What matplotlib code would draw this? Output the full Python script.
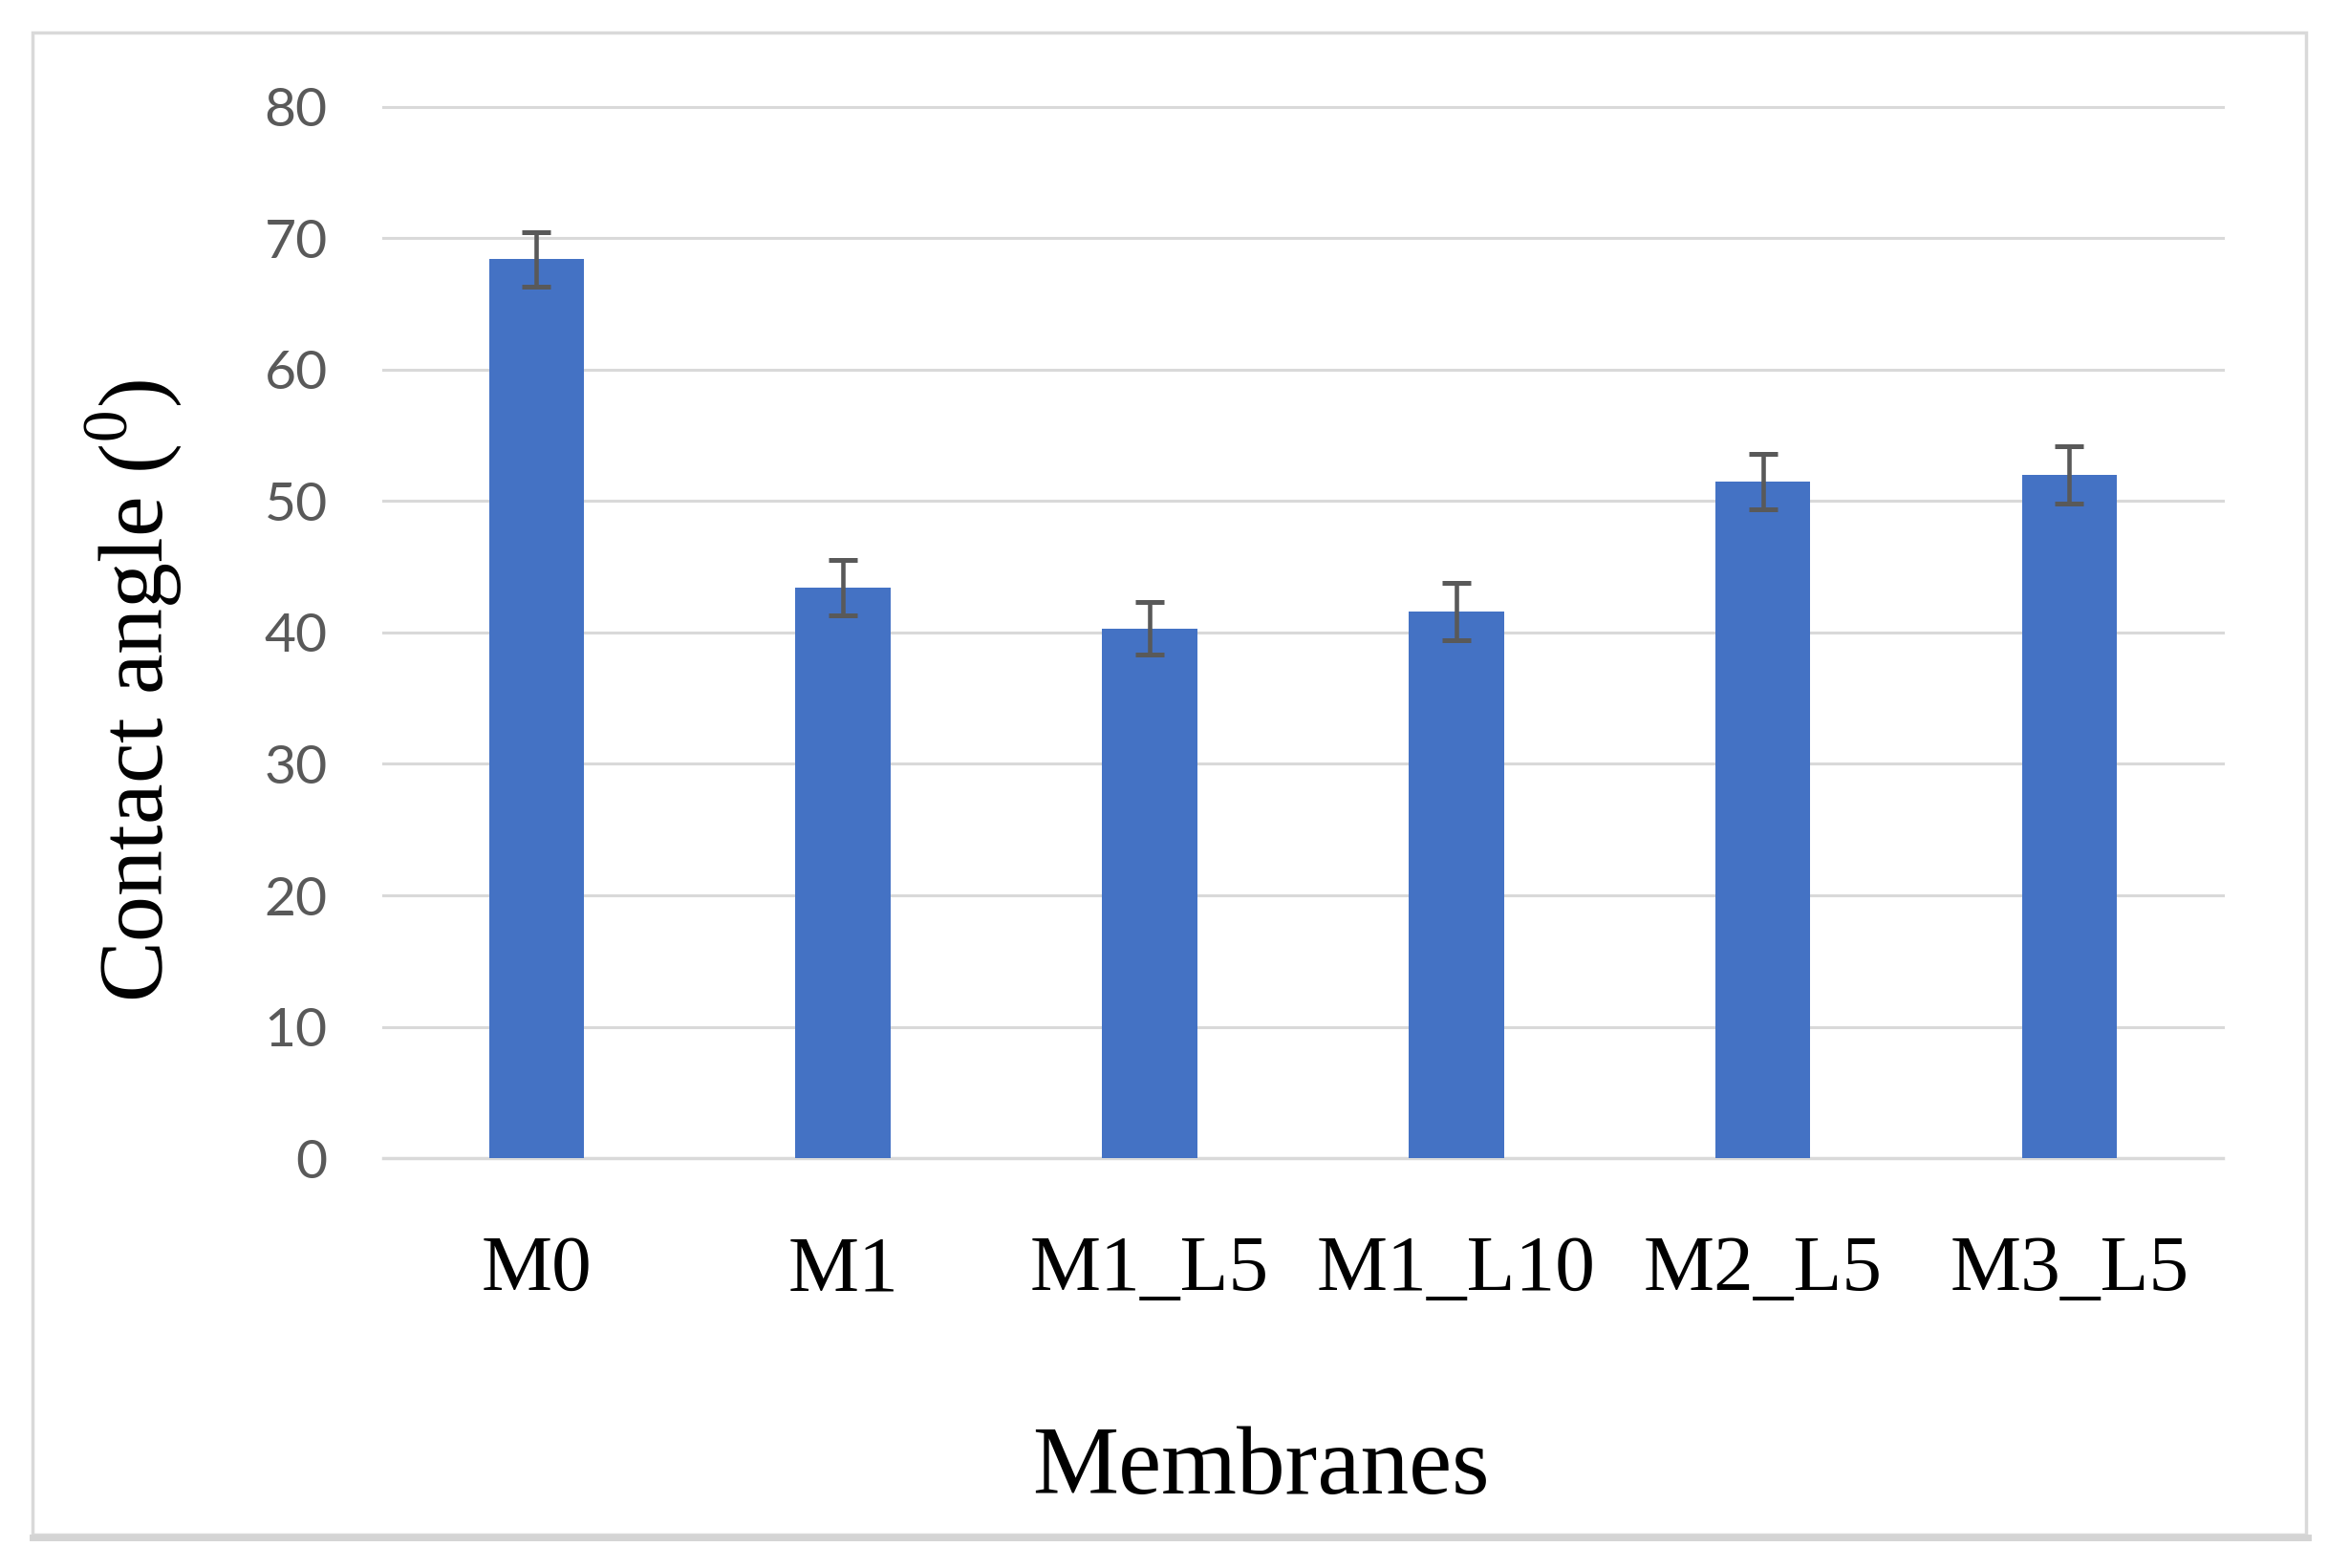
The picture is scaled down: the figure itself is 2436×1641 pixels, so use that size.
import matplotlib
matplotlib.use("Agg")
import matplotlib.pyplot as plt
from matplotlib.patches import Rectangle
from matplotlib.lines import Line2D

# Data
membranes = ['M0', 'M1', 'M1_L5', 'M1_L10', 'M2_L5', 'M3_L5']
contact_angle = [68.4, 43.4, 40.3, 41.6, 51.5, 52.0]
angle_err = [2.1, 2.1, 2.0, 2.2, 2.1, 2.2]
y_ticks = [0, 10, 20, 30, 40, 50, 60, 70, 80]

plt.rcParams['mathtext.fontset'] = 'custom'
plt.rcParams['mathtext.rm'] = 'Liberation Serif'

fig = plt.figure(figsize=(24.36, 16.41), dpi=100)
ax = fig.add_axes([0.1646, 0.2614, 0.7902, 0.6704])

ax.bar(range(len(membranes)), contact_angle, width=0.31, color='#4472C4', zorder=3,
       yerr=angle_err, capsize=11,
       error_kw=dict(ecolor='#595959', elinewidth=3.3, capthick=3.6, zorder=4))

ax.set_xlim(-0.5, len(membranes) - 0.5)
ax.set_ylim(0, 80)
ax.set_yticks(y_ticks)
ax.set_xticks(range(len(membranes)))
ax.set_xticklabels(membranes, fontfamily='Liberation Serif', fontsize=60)
ax.tick_params(axis='x', length=0, pad=58)
ax.tick_params(axis='y', length=0, pad=42, labelsize=41, labelcolor='#595959')
for lab in ax.get_yticklabels():
    lab.set_fontfamily('Lato')

ax.grid(axis='y', color='#d9d9d9', linewidth=2.2, zorder=0)
for gl in ax.get_ygridlines():
    gl.set_clip_on(False)
for s in ['top', 'right', 'left']:
    ax.spines[s].set_visible(False)
ax.spines['bottom'].set_color('#d9d9d9')
ax.spines['bottom'].set_linewidth(2.4)

ax.set_xlabel('Membranes', fontfamily='Liberation Serif', fontsize=73)
ax.xaxis.label.set_va('center')
ax.xaxis.set_label_coords(0.477, -0.297)
ax.set_ylabel('Contact angle ($^\\mathregular{0}$)', fontfamily='Liberation Serif',
              fontsize=69)
ax.yaxis.label.set_va('center')
ax.yaxis.set_label_coords(-0.1356, 0.445)

# outer chart frame with soft bottom shadow
fig.patches.append(Rectangle((34 / 2436, 1 - 1606 / 1641), (2413 - 34) / 2436, (1606 - 34) / 1641,
                             transform=fig.transFigure, fill=False,
                             edgecolor='#d9d9d9', linewidth=2.5))
fig.lines.append(Line2D([34 / 2436, 2415 / 2436], [1 - 1609 / 1641, 1 - 1609 / 1641],
                        transform=fig.transFigure, color='#d4d4d4', linewidth=5))

fig.savefig('out.png', dpi=100)
